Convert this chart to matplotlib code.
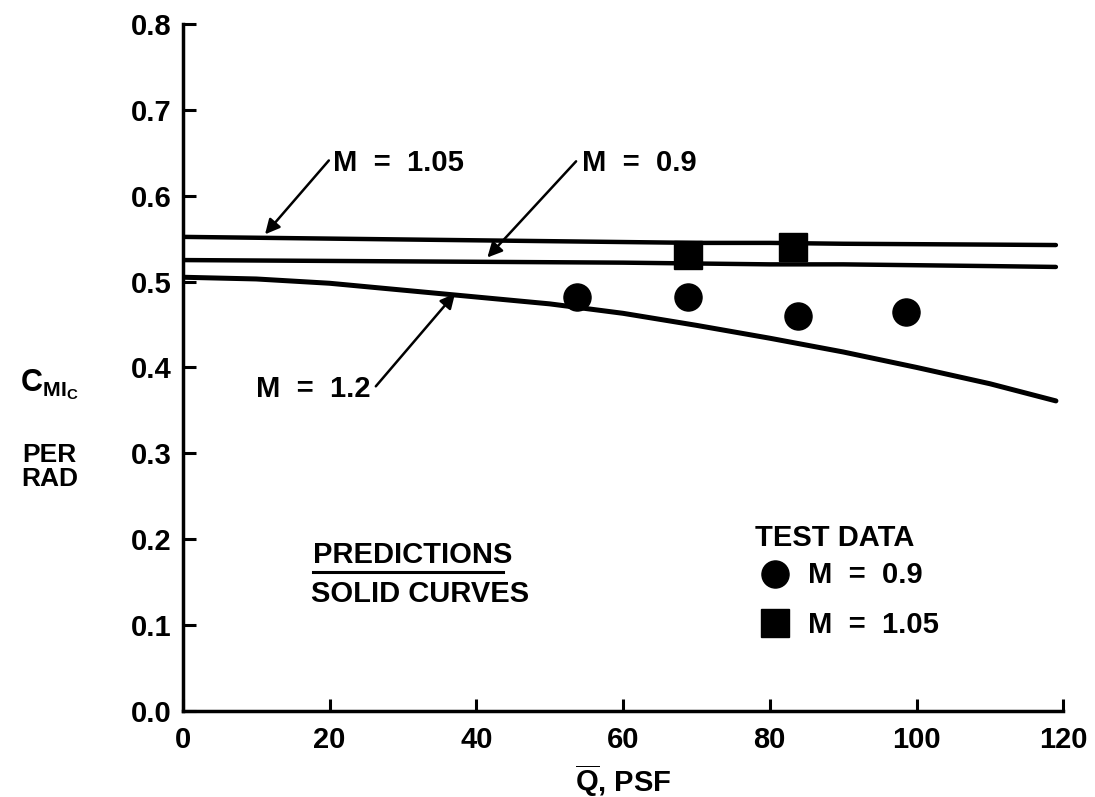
import matplotlib
matplotlib.use("Agg")
import matplotlib.pyplot as plt

plt.rcParams['font.family'] = ['Liberation Sans', 'DejaVu Sans']
plt.rcParams['font.weight'] = 'bold'
plt.rcParams['mathtext.fontset'] = 'custom'
plt.rcParams['mathtext.rm'] = 'Liberation Sans:bold'
plt.rcParams['mathtext.bf'] = 'Liberation Sans:bold'
plt.rcParams['mathtext.it'] = 'Liberation Sans:bold'

# Prediction curves (solid)
q_pred = [0, 10, 20, 30, 40, 50, 60, 70, 80, 90, 100, 110, 119]
cm_m105 = [0.552, 0.551, 0.550, 0.549, 0.548, 0.547, 0.546, 0.545, 0.545, 0.544, 0.5435, 0.543, 0.5425]
cm_m09 = [0.525, 0.5245, 0.524, 0.5235, 0.523, 0.5225, 0.522, 0.521, 0.520, 0.520, 0.519, 0.518, 0.517]
cm_m12 = [0.505, 0.503, 0.498, 0.490, 0.482, 0.474, 0.463, 0.449, 0.434, 0.418, 0.400, 0.381, 0.361]

# Test data
q_test_m09 = [53.7, 68.8, 83.8, 98.6]
cm_test_m09 = [0.482, 0.482, 0.460, 0.464]
q_test_m105 = [68.8, 83.2]
cm_test_m105 = [0.531, 0.540]

x_ticks = [0, 20, 40, 60, 80, 100, 120]
y_ticks = [0.0, 0.1, 0.2, 0.3, 0.4, 0.5, 0.6, 0.7, 0.8]

FS = 21

fig = plt.figure(figsize=(10.95, 7.97), dpi=100)
ax = fig.add_axes([0.167, 0.108, 0.804, 0.862])

ax.plot(q_pred, cm_m105, color='black', lw=3.2, solid_capstyle='round')
ax.plot(q_pred, cm_m09, color='black', lw=3.2, solid_capstyle='round')
ax.plot(q_pred, cm_m12, color='black', lw=3.6, solid_capstyle='round')

ax.plot(q_test_m09, cm_test_m09, 'o', color='black', ms=19.5, ls='none')
ax.plot(q_test_m105, cm_test_m105, 's', color='black', ms=19.5, ls='none')

ax.set_xlim(0, 120)
ax.set_ylim(0, 0.8)
ax.set_xticks(x_ticks)
ax.set_xticklabels([str(v) for v in x_ticks])
ax.set_yticks(y_ticks)
ax.set_yticklabels([f"{v:.1f}" for v in y_ticks])
for s in ['top', 'right']:
    ax.spines[s].set_visible(False)
for s in ['left', 'bottom']:
    ax.spines[s].set_linewidth(2.5)
ax.tick_params(direction='in', length=9, width=2.2, labelsize=FS, pad=8)
ax.tick_params(axis='x', pad=11)

ax.set_xlabel(r'$\overline{\mathrm{Q}}$, PSF', fontsize=FS, fontweight='bold', labelpad=6)

# Y-axis label
fig.text(0.045, 0.517, r'$\mathrm{C}_{\mathrm{MI}_{\mathrm{C}}}$', fontsize=22, ha='center', va='center')
fig.text(0.045, 0.414, 'PER\nRAD', fontsize=19, ha='center', va='center', linespacing=1.0)

arrow = dict(arrowstyle='-|>', lw=1.8, color='black', mutation_scale=22, shrinkA=0, shrinkB=0)

# M = 1.05
ax.text(20.5, 0.638, 'M  =  1.05', fontsize=FS, ha='left', va='center')
ax.annotate('', xy=(11.2, 0.555), xytext=(19.9, 0.641), arrowprops=arrow)
# M = 0.9
ax.text(54.4, 0.638, 'M  =  0.9', fontsize=FS, ha='left', va='center')
ax.annotate('', xy=(41.5, 0.528), xytext=(53.6, 0.640), arrowprops=arrow)
# M = 1.2
ax.text(25.6, 0.375, 'M  =  1.2', fontsize=FS, ha='right', va='center')
ax.annotate('', xy=(37.1, 0.486), xytext=(26.3, 0.378), arrowprops=arrow)

ax.text(17.7, 0.181, 'PREDICTIONS', fontsize=FS, ha='left', va='center')
ax.plot([17.7, 43.6], [0.162, 0.162], color='black', lw=2.2)
ax.text(17.4, 0.136, 'SOLID CURVES', fontsize=FS, ha='left', va='center')

ax.text(78.0, 0.201, 'TEST DATA', fontsize=FS, ha='left', va='center')
ax.plot([80.7], [0.160], 'o', color='black', ms=19.5)
ax.text(85.2, 0.158, 'M  =  0.9', fontsize=FS, ha='left', va='center')
ax.plot([80.7], [0.102], 's', color='black', ms=19.5)
ax.text(85.2, 0.100, 'M  =  1.05', fontsize=FS, ha='left', va='center')

fig.savefig('out.png', dpi=100)
